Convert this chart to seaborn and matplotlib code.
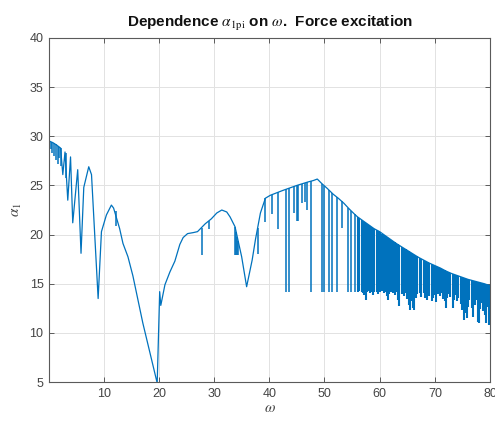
import matplotlib
matplotlib.use("Agg")
import matplotlib.pyplot as plt
import pandas as pd
import seaborn as sns

# ---------------- data ----------------
# main curve (upper envelope with the low-frequency lobes)
curve_w = [0.2, 0.8, 1.5, 2.2, 2.6, 3.0, 3.5, 4.0, 4.4, 5.3, 5.9, 6.4, 7.3, 7.8,
           9.0, 9.6, 10.5, 11.4, 11.8, 12.9, 13.5, 14.4, 15.3, 17.1, 18.7, 19.7,
           20.15, 20.35, 21.1, 22.0, 22.9, 23.8, 24.4, 25.2, 26.2, 27.0, 28.4,
           29.5, 30.5, 31.4, 32.3, 32.9, 33.8, 35.0, 35.9, 36.9, 37.5, 38.4, 39.3,
           40.2, 42.5, 45.0, 47.0, 48.0, 48.7, 49.5, 50.5, 51.6, 52.5, 53.5, 54.5,
           55.5, 56, 57, 58, 59, 60, 61, 62, 63, 64, 65, 66, 67, 68, 69, 70, 71,
           72, 73, 74, 75, 76, 77, 78, 79, 80]
curve_a = [29.5, 29.35, 29.1, 28.8, 26.1, 28.4, 23.5, 27.9, 21.2, 26.6, 18.1, 24.8, 26.9, 26.1,
           13.5, 20.3, 22.0, 23.0, 22.7, 20.6, 19.1, 17.75, 15.8, 11.0, 7.25, 4.9,
           14.2, 12.8, 14.9, 16.2, 17.3, 19.0, 19.7, 20.1, 20.2, 20.3, 21.1,
           21.6, 22.2, 22.5, 22.3, 21.8, 20.8, 17.75, 14.7, 17.4, 19.5, 22.2, 23.7,
           24.0, 24.5, 25.0, 25.35, 25.5, 25.65, 25.2, 24.7, 24.1, 23.7, 23.2, 22.6,
           22.05, 21.8, 21.4, 21.0, 20.6, 20.3, 19.9, 19.5, 19.1, 18.75, 18.4, 18.05, 17.7, 17.4, 17.1, 16.85, 16.6,
           16.3, 16.05, 15.85, 15.65, 15.45, 15.3, 15.15, 15.0, 14.8]

# isolated downward spikes: position, top, bottom
spike_w = [0.4, 0.7, 1.0, 1.3, 1.7, 2.0, 2.35, 3.2, 12.2, 27.8, 29.0, 33.8, 34.0, 34.2, 34.4,
           37.9, 39.3, 40.5, 41.6, 43.0, 43.6, 44.4, 45.1, 45.25, 46.0, 46.5, 46.9,
           47.5, 49.6, 50.0, 50.8, 51.4, 52.3, 53.1, 54.3, 54.8, 55.5]
spike_top = [29.45, 29.4, 29.3, 29.2, 29.0, 28.95, 28.8, 28.3, 22.4, 20.7, 21.4, 20.8, 20.3, 19.8, 19.3,
             20.7, 23.7, 24.05, 24.3, 24.6, 24.7, 24.9, 25.0, 25.02, 25.17, 25.26, 25.33,
             25.42, 25.15, 24.95, 24.55, 24.21, 23.79, 23.4, 22.72, 22.43, 22.05]
spike_bot = [28.7, 28.3, 28.0, 27.6, 27.2, 27.8, 27.0, 25.8, 20.9, 17.9, 20.6, 17.9, 17.9, 17.9, 17.9,
             18.0, 21.3, 22.1, 20.6, 14.2, 14.2, 22.2, 21.4, 21.4, 23.2, 23.3, 22.5,
             14.2, 14.2, 14.2, 14.2, 14.2, 14.2, 20.7, 14.2, 14.2, 14.2]

# dense spikes of the high-frequency band
dense_w = [56.0, 56.25, 56.75, 57.0, 57.25, 57.5, 57.75, 58.0, 58.25, 58.5, 58.75, 59.0,
           59.5, 59.75, 60.0, 60.5, 60.75, 61.0, 61.25, 61.5, 61.75, 62.0, 62.5, 62.75,
           63.0, 63.25, 63.5, 64.0, 64.25, 64.5, 64.75, 65.0, 65.25, 65.5, 65.75, 66.0,
           66.25, 66.5, 66.75, 67.25, 67.5, 68.0, 68.25, 68.5, 68.75, 69.0, 69.5, 69.75,
           70.0, 70.25, 70.5, 71.0, 71.25, 71.5, 71.75, 72.0, 72.25, 72.5, 72.75, 73.25,
           73.5, 73.75, 74.0, 74.25, 74.75, 75.0, 75.25, 75.5, 75.75, 76.0, 76.25, 76.75,
           77.0, 77.25, 77.5, 77.75, 78.0, 78.25, 78.5, 78.75, 79.0, 79.25, 79.5, 79.75, 80.0]
dense_top = [21.8, 21.7, 21.5, 21.4, 21.3, 21.2, 21.1, 21.0, 20.9, 20.8, 20.7, 20.6,
             20.45, 20.38, 20.3, 20.1, 20.0, 19.9, 19.8, 19.7, 19.6, 19.5, 19.3, 19.2,
             19.1, 19.01, 18.92, 18.75, 18.66, 18.57, 18.49, 18.4, 18.31, 18.22, 18.14, 18.05,
             17.96, 17.87, 17.79, 17.62, 17.55, 17.4, 17.32, 17.25, 17.17, 17.1, 16.97, 16.91,
             16.85, 16.79, 16.72, 16.6, 16.52, 16.45, 16.37, 16.3, 16.24, 16.17, 16.11, 16.0,
             15.95, 15.9, 15.85, 15.8, 15.7, 15.65, 15.6, 15.55, 15.5, 15.45, 15.41, 15.34,
             15.3, 15.26, 15.22, 15.19, 15.15, 15.11, 15.07, 15.04, 15.0, 14.95, 14.9, 14.85, 14.8]
dense_bot = [14.2, 14.3, 14.2, 14.1, 13.9, 13.4, 14.2, 14.3, 14.1, 14.2, 13.9, 14.2,
             14.2, 14.0, 14.2, 14.3, 14.1, 14.2, 13.8, 13.4, 14.0, 14.2, 14.1, 13.9,
             14.2, 13.3, 12.7, 14.0, 14.2, 13.8, 14.1, 13.5, 12.8, 12.3, 13.2, 12.5,
             12.3, 13.6, 14.0, 14.1, 13.7, 14.1, 13.6, 13.3, 14.0, 13.8, 13.2, 13.6,
             13.9, 13.1, 14.0, 13.8, 14.1, 13.5, 13.2, 12.5, 13.6, 14.0, 13.7, 12.5,
             13.4, 13.9, 13.2, 13.6, 12.9, 12.3, 11.3, 12.0, 11.5, 12.6, 13.3, 12.5,
             11.6, 12.8, 13.4, 11.1, 11.0, 12.4, 13.0, 12.2, 11.8, 11.0, 12.6, 10.8, 11.8]

x_ticks = [10, 20, 30, 40, 50, 60, 70, 80]
y_ticks = [5, 10, 15, 20, 25, 30, 35, 40]

# ---------------- drawing ----------------
BLUE = "#0072BD"
sns.set_theme(style="whitegrid")
plt.rcParams["font.family"] = ["Liberation Sans", "DejaVu Sans"]
plt.rcParams["mathtext.fontset"] = "stix"

fig = plt.figure(figsize=(4.95, 4.26), dpi=100)
fig.patch.set_facecolor("white")
ax = fig.add_axes([0.099, 0.103, 0.891, 0.808])
ax.set_facecolor("white")

df = pd.DataFrame({"omega": curve_w, "alpha": curve_a})
sns.lineplot(data=df, x="omega", y="alpha", sort=False, estimator=None,
             color=BLUE, linewidth=0.9, ax=ax)
ax.vlines(spike_w, spike_bot, spike_top, color=BLUE, linewidth=1.1)
ax.vlines(dense_w, dense_bot, dense_top, color=BLUE, linewidth=1.5)

ax.set_xlim(0.1, 80)
ax.set_ylim(5, 40)
ax.set_xticks(x_ticks)
ax.set_yticks(y_ticks)
ax.grid(True, color="#e2e2e2", linewidth=0.7)
for s in ax.spines.values():
    s.set_visible(True)
    s.set_color("#5a5a5a")
    s.set_linewidth(0.8)
ax.tick_params(direction="in", length=3.5, width=0.7, color="#5a5a5a",
               labelsize=9, labelcolor="#444444", top=True, right=True,
               bottom=True, left=True, pad=4)

ax.set_title(r"Dependence $\alpha_{1\mathrm{pi}}$ on $\omega$.  Force excitation",
             fontsize=11, fontweight="bold", pad=8, color="#111111")
ax.set_xlabel(r"$\omega$", fontsize=11, color="#444444", labelpad=1)
ax.set_ylabel(r"$\alpha_1$", fontsize=11, color="#444444", labelpad=4)

fig.savefig("out.png", dpi=100)
